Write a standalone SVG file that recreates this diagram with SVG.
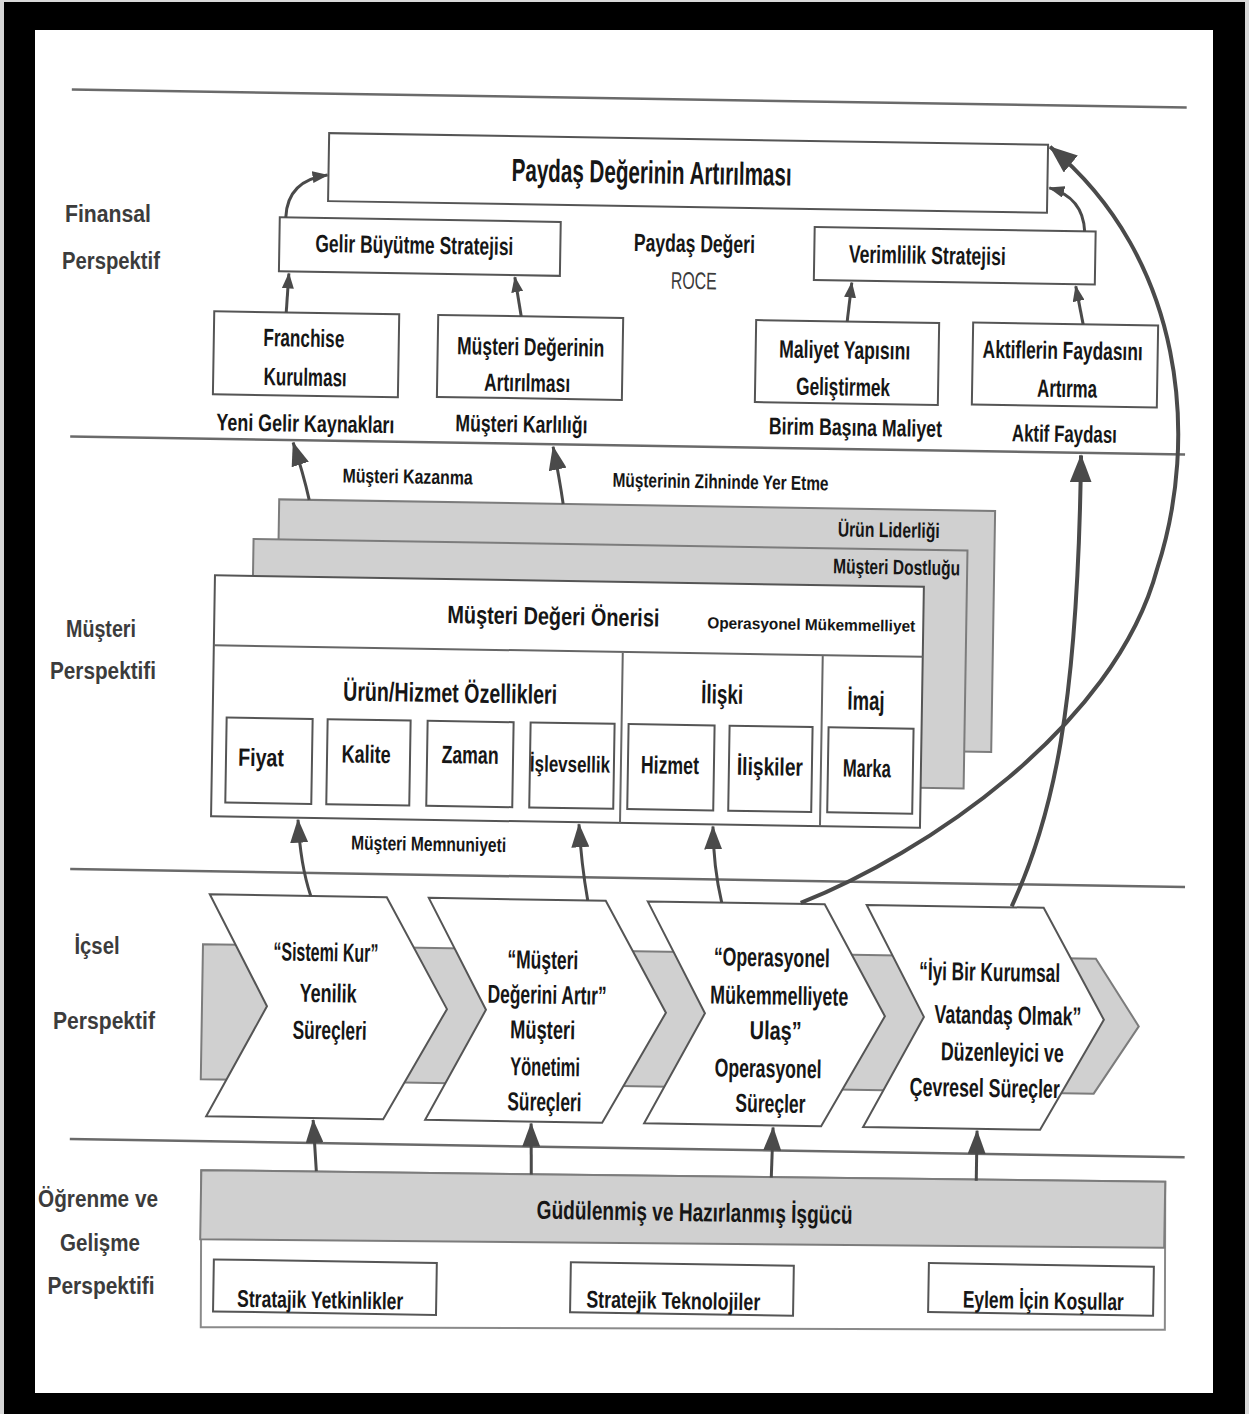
<svg xmlns="http://www.w3.org/2000/svg" width="1249" height="1414" viewBox="0 0 1249 1414">
  <style>
    .ln { stroke: #6a6a6a; stroke-width: 2.5; fill: none; }
    .bx { fill: #ffffff; stroke: #555555; stroke-width: 2; }
    .gy { fill: #d0d0d0; stroke: #7c7c7c; stroke-width: 2; }
    .dv { stroke: #666666; stroke-width: 2; fill: none; }
    .ar { stroke: #4a4a4a; stroke-width: 3; fill: none; }
    .arb { stroke: #4a4a4a; stroke-width: 4; fill: none; }
    .t { font-family: "Liberation Sans Narrow", "Liberation Sans", Arial, sans-serif; font-weight: bold; fill: #161616; text-anchor: middle; }
    .tr { font-family: "Liberation Sans Narrow", "Liberation Sans", Arial, sans-serif; font-weight: normal; fill: #3a3a3a; text-anchor: middle; }
    .te { font-family: "Liberation Sans Narrow", "Liberation Sans", Arial, sans-serif; font-weight: bold; fill: #161616; text-anchor: end; }
    .lbl { font-family: "Liberation Sans", Arial, sans-serif; font-weight: bold; fill: #3c3c3c; text-anchor: middle; font-size: 23px; }
  </style>
  <defs>
    <marker id="ah-s" viewBox="0 0 16 12" refX="15" refY="6" markerWidth="16" markerHeight="12" orient="auto" markerUnits="userSpaceOnUse">
      <path d="M0,0 L16,6 L0,12 Z" fill="#4a4a4a"/>
    </marker>
    <marker id="ah-m" viewBox="0 0 24 18" refX="23" refY="9" markerWidth="24" markerHeight="18" orient="auto" markerUnits="userSpaceOnUse">
      <path d="M0,0 L24,9 L0,18 Z" fill="#4a4a4a"/>
    </marker>
    <marker id="ah-l" viewBox="0 0 28 22" refX="27" refY="11" markerWidth="28" markerHeight="22" orient="auto" markerUnits="userSpaceOnUse">
      <path d="M0,0 L28,11 L0,22 Z" fill="#4a4a4a"/>
    </marker>
  </defs>

  <!-- frame -->
  <rect x="0" y="0" width="1249" height="1414" fill="#d8d8d8"/>
  <rect x="4" y="2" width="1241" height="1412" fill="#000000"/>
  <rect x="35" y="30" width="1178" height="1363" fill="#ffffff"/>

  <!-- perspective labels -->
  <g id="labels">
    <text class="lbl" x="108" y="222" textLength="86" lengthAdjust="spacingAndGlyphs">Finansal</text>
    <text class="lbl" x="111" y="269" textLength="98" lengthAdjust="spacingAndGlyphs">Perspektif</text>
    <text class="lbl" x="101" y="637" textLength="70" lengthAdjust="spacingAndGlyphs">Müşteri</text>
    <text class="lbl" x="103" y="679" textLength="106" lengthAdjust="spacingAndGlyphs">Perspektifi</text>
    <text class="lbl" x="97" y="954" textLength="45" lengthAdjust="spacingAndGlyphs">İçsel</text>
    <text class="lbl" x="104" y="1029" textLength="102" lengthAdjust="spacingAndGlyphs">Perspektif</text>
    <text class="lbl" x="98" y="1207" textLength="120" lengthAdjust="spacingAndGlyphs">Öğrenme ve</text>
    <text class="lbl" x="100" y="1251" textLength="80" lengthAdjust="spacingAndGlyphs">Gelişme</text>
    <text class="lbl" x="101" y="1294" textLength="107" lengthAdjust="spacingAndGlyphs">Perspektifi</text>
  </g>

  <g transform="rotate(0.93 625 700)">
    <!-- horizontal separators between perspectives -->
    <g id="separators">
      <path class="ln" d="M62,98.5 H1177"/>
      <path class="ln" d="M66,445.5 H1181"/>
      <path class="ln" d="M73,878 H1188"/>
      <path class="ln" d="M77,1148 H1192"/>
    </g>

    <!-- financial perspective -->
    <g id="paydas-degeri">
      <rect class="bx" x="320" y="138" width="719" height="68"/>
      <text class="t" x="643" y="183" font-size="32" textLength="280" lengthAdjust="spacingAndGlyphs">Paydaş Değerinin Artırılması</text>
    </g>
    <g id="gelir-buyutme">
      <rect class="bx" x="272" y="223" width="281" height="54"/>
      <text class="t" x="407" y="257" font-size="25" textLength="198" lengthAdjust="spacingAndGlyphs">Gelir Büyütme Stratejisi</text>
    </g>
    <g id="roce">
      <text class="t" x="687" y="251" font-size="25" textLength="121" lengthAdjust="spacingAndGlyphs">Paydaş Değeri</text>
      <text class="tr" x="687" y="288" font-size="24" textLength="46" lengthAdjust="spacingAndGlyphs">ROCE</text>
    </g>
    <g id="verimlilik">
      <rect class="bx" x="807" y="224" width="281" height="53"/>
      <text class="t" x="920" y="259" font-size="25" textLength="157" lengthAdjust="spacingAndGlyphs">Verimlilik Stratejisi</text>
    </g>
    <g id="franchise">
      <rect class="bx" x="208" y="318" width="185" height="83"/>
      <text class="t" x="298" y="352" font-size="25" textLength="81" lengthAdjust="spacingAndGlyphs">Franchise</text>
      <text class="t" x="300" y="391" font-size="25" textLength="83" lengthAdjust="spacingAndGlyphs">Kurulması</text>
      <text class="t" x="301" y="437" font-size="24" textLength="178" lengthAdjust="spacingAndGlyphs">Yeni Gelir Kaynakları</text>
    </g>
    <g id="musteri-degerinin-artirilmasi">
      <rect class="bx" x="432" y="318" width="185" height="82"/>
      <text class="t" x="525" y="357" font-size="25" textLength="147" lengthAdjust="spacingAndGlyphs">Müşteri Değerinin</text>
      <text class="t" x="522" y="393" font-size="25" textLength="86" lengthAdjust="spacingAndGlyphs">Artırılması</text>
      <text class="t" x="517" y="434" font-size="24" textLength="132" lengthAdjust="spacingAndGlyphs">Müşteri Karlılığı</text>
    </g>
    <g id="maliyet-yapisi">
      <rect class="bx" x="750" y="318" width="183" height="82"/>
      <text class="t" x="839" y="355" font-size="25" textLength="131" lengthAdjust="spacingAndGlyphs">Maliyet Yapısını</text>
      <text class="t" x="838" y="392" font-size="25" textLength="94" lengthAdjust="spacingAndGlyphs">Geliştirmek</text>
      <text class="t" x="851" y="432" font-size="24" textLength="173" lengthAdjust="spacingAndGlyphs">Birim Başına Maliyet</text>
    </g>
    <g id="aktiflerin-faydasi">
      <rect class="bx" x="967" y="317" width="185" height="82"/>
      <text class="t" x="1057" y="352" font-size="25" textLength="160" lengthAdjust="spacingAndGlyphs">Aktiflerin Faydasını</text>
      <text class="t" x="1062" y="390" font-size="25" textLength="60" lengthAdjust="spacingAndGlyphs">Artırma</text>
      <text class="t" x="1060" y="435" font-size="24" textLength="105" lengthAdjust="spacingAndGlyphs">Aktif Faydası</text>
    </g>

    <!-- customer perspective -->
    <g id="urun-liderligi">
      <rect class="gy" x="276" y="505" width="716" height="241"/>
      <text class="te" x="937" y="533" font-size="21" textLength="102" lengthAdjust="spacingAndGlyphs">Ürün Liderliği</text>
    </g>
    <g id="musteri-dostlugu">
      <rect class="gy" x="251" y="545" width="714" height="238"/>
      <text class="te" x="958" y="570" font-size="21" textLength="127" lengthAdjust="spacingAndGlyphs">Müşteri Dostluğu</text>
    </g>
    <g id="musteri-degeri-onerisi">
      <rect class="bx" x="213" y="582" width="709" height="241"/>
      <path class="dv" d="M213,652 H922 M622,652 V823 M822,652 V823"/>
      <text class="t" x="552" y="626" font-size="25" textLength="212" lengthAdjust="spacingAndGlyphs">Müşteri Değeri Önerisi</text>
      <text class="t" x="810" y="627" font-size="16" textLength="208" lengthAdjust="spacingAndGlyphs">Operasyonel Mükemmelliyet</text>
      <text class="t" x="450" y="705" font-size="27" textLength="214" lengthAdjust="spacingAndGlyphs">Ürün/Hizmet Özellikleri</text>
      <text class="t" x="722" y="702" font-size="27" textLength="42" lengthAdjust="spacingAndGlyphs">İlişki</text>
      <text class="t" x="866" y="706" font-size="27" textLength="37" lengthAdjust="spacingAndGlyphs">İmaj</text>
    </g>
    <g id="fiyat">
      <rect class="bx" x="227" y="724" width="86" height="85"/>
      <text class="t" x="262" y="772" font-size="25" textLength="46" lengthAdjust="spacingAndGlyphs">Fiyat</text>
    </g>
    <g id="kalite">
      <rect class="bx" x="328" y="724" width="83" height="85"/>
      <text class="t" x="367" y="767" font-size="25" textLength="49" lengthAdjust="spacingAndGlyphs">Kalite</text>
    </g>
    <g id="zaman">
      <rect class="bx" x="428" y="724" width="86" height="85"/>
      <text class="t" x="471" y="766" font-size="25" textLength="57" lengthAdjust="spacingAndGlyphs">Zaman</text>
    </g>
    <g id="islevsellik">
      <rect class="bx" x="531" y="724" width="84" height="85"/>
      <text class="t" x="571" y="773" font-size="23" textLength="80" lengthAdjust="spacingAndGlyphs">İşlevsellik</text>
    </g>
    <g id="hizmet">
      <rect class="bx" x="629" y="724" width="86" height="85"/>
      <text class="t" x="671" y="773" font-size="25" textLength="58" lengthAdjust="spacingAndGlyphs">Hizmet</text>
    </g>
    <g id="iliskiler">
      <rect class="bx" x="730" y="724" width="83" height="85"/>
      <text class="t" x="771" y="773" font-size="25" textLength="66" lengthAdjust="spacingAndGlyphs">İlişkiler</text>
    </g>
    <g id="marka">
      <rect class="bx" x="829" y="724" width="85" height="85"/>
      <text class="t" x="868" y="773" font-size="25" textLength="48" lengthAdjust="spacingAndGlyphs">Marka</text>
    </g>
    <g id="connector-labels">
      <text class="t" x="404" y="487" font-size="20" textLength="130" lengthAdjust="spacingAndGlyphs">Müşteri Kazanma</text>
      <text class="t" x="717" y="487" font-size="20" textLength="216" lengthAdjust="spacingAndGlyphs">Müşterinin Zihninde Yer Etme</text>
      <text class="t" x="431" y="854" font-size="20" textLength="155" lengthAdjust="spacingAndGlyphs">Müşteri Memnuniyeti</text>
    </g>

    <!-- internal perspective: process chain -->
    <g id="surec-bandi">
      <polygon class="gy" points="207,951 1100,951 1144,1018 1100,1086 207,1086"/>
    </g>
    <g id="yenilik-surecleri">
      <polygon class="bx" points="213,901 390,901 452,1012 390,1123 213,1123 272,1012"/>
      <text class="t" x="330" y="966" font-size="26" textLength="105" lengthAdjust="spacingAndGlyphs">“Sistemi Kur”</text>
      <text class="t" x="333" y="1007" font-size="26" textLength="57" lengthAdjust="spacingAndGlyphs">Yenilik</text>
      <text class="t" x="335" y="1044" font-size="26" textLength="74" lengthAdjust="spacingAndGlyphs">Süreçleri</text>
    </g>
    <g id="musteri-yonetimi-surecleri">
      <polygon class="bx" points="432,901 609,901 671,1012 609,1123 432,1123 491,1012"/>
      <text class="t" x="547" y="970" font-size="26" textLength="71" lengthAdjust="spacingAndGlyphs">“Müşteri</text>
      <text class="t" x="552" y="1005" font-size="26" textLength="119" lengthAdjust="spacingAndGlyphs">Değerini Artır”</text>
      <text class="t" x="548" y="1040" font-size="26" textLength="65" lengthAdjust="spacingAndGlyphs">Müşteri</text>
      <text class="t" x="551" y="1077" font-size="26" textLength="70" lengthAdjust="spacingAndGlyphs">Yönetimi</text>
      <text class="t" x="551" y="1112" font-size="26" textLength="74" lengthAdjust="spacingAndGlyphs">Süreçleri</text>
    </g>
    <g id="operasyonel-surecler">
      <polygon class="bx" points="651,901 828,901 890,1012 828,1123 651,1123 710,1012"/>
      <text class="t" x="776" y="964" font-size="26" textLength="116" lengthAdjust="spacingAndGlyphs">“Operasyonel</text>
      <text class="t" x="784" y="1002" font-size="26" textLength="138" lengthAdjust="spacingAndGlyphs">Mükemmelliyete</text>
      <text class="t" x="781" y="1037" font-size="26" textLength="52" lengthAdjust="spacingAndGlyphs">Ulaş”</text>
      <text class="t" x="774" y="1075" font-size="26" textLength="107" lengthAdjust="spacingAndGlyphs">Operasyonel</text>
      <text class="t" x="777" y="1110" font-size="26" textLength="70" lengthAdjust="spacingAndGlyphs">Süreçler</text>
    </g>
    <g id="cevresel-surecler">
      <polygon class="bx" points="870,901 1047,901 1109,1012 1047,1123 870,1123 929,1012"/>
      <text class="t" x="994" y="975" font-size="26" textLength="141" lengthAdjust="spacingAndGlyphs">“İyi Bir Kurumsal</text>
      <text class="t" x="1013" y="1018" font-size="26" textLength="147" lengthAdjust="spacingAndGlyphs">Vatandaş Olmak”</text>
      <text class="t" x="1008" y="1055" font-size="26" textLength="123" lengthAdjust="spacingAndGlyphs">Düzenleyici ve</text>
      <text class="t" x="991" y="1091" font-size="26" textLength="150" lengthAdjust="spacingAndGlyphs">Çevresel Süreçler</text>
    </g>

    <!-- learning and growth perspective -->
    <g id="ogrenme-alani">
      <polygon fill="#ffffff" stroke="#8a8a8a" stroke-width="2" points="209,1177 1173,1173 1175,1321 211,1334"/>
    </g>
    <g id="isgucu">
      <polygon class="gy" points="209,1177 1173,1173 1173,1239 209,1246"/>
      <text class="t" x="703" y="1220" font-size="26" textLength="316" lengthAdjust="spacingAndGlyphs">Güdülenmiş ve Hazırlanmış İşgücü</text>
    </g>
    <g id="yetkinlikler">
      <rect class="bx" x="223" y="1266" width="223" height="52"/>
      <text class="t" x="330" y="1313" font-size="24" textLength="166" lengthAdjust="spacingAndGlyphs">Stratajik Yetkinlikler</text>
    </g>
    <g id="teknolojiler">
      <rect class="bx" x="580" y="1263" width="223" height="50"/>
      <text class="t" x="683" y="1308" font-size="24" textLength="174" lengthAdjust="spacingAndGlyphs">Stratejik Teknolojiler</text>
    </g>
    <g id="kosullar">
      <rect class="bx" x="938" y="1258" width="225" height="49"/>
      <text class="t" x="1053" y="1302" font-size="24" textLength="161" lengthAdjust="spacingAndGlyphs">Eylem İçin Koşullar</text>
    </g>

    <!-- connectors -->
    <g id="connectors">
      <path class="ar" d="M278,223 Q279,186 319,180" marker-end="url(#ah-s)"/>
      <path class="ar" d="M1077,224 Q1075,190 1041,181" marker-end="url(#ah-s)"/>
      <path class="ar" d="M280,318 L282,279" marker-end="url(#ah-s)"/>
      <path class="ar" d="M515,318 L508,279" marker-end="url(#ah-s)"/>
      <path class="ar" d="M841,318 L845,279" marker-end="url(#ah-s)"/>
      <path class="ar" d="M1077,317 L1069,279" marker-end="url(#ah-s)"/>

      <path class="ar" d="M306,505 Q300,480 289,448" marker-end="url(#ah-m)"/>
      <path class="ar" d="M560,505 Q556,480 549,448" marker-end="url(#ah-m)"/>

      <path class="ar" d="M314,901 Q303,870 300,825" marker-end="url(#ah-m)"/>
      <path class="ar" d="M591,901 Q584,865 581,825" marker-end="url(#ah-m)"/>
      <path class="ar" d="M725,901 Q716,865 715,825" marker-end="url(#ah-m)"/>

      <path class="ar" d="M324,1176 L320,1125" marker-end="url(#ah-m)"/>
      <path class="ar" d="M539,1176 L538,1125" marker-end="url(#ah-m)"/>
      <path class="ar" d="M779,1175 L780,1125" marker-end="url(#ah-m)"/>
      <path class="ar" d="M984,1175 L984,1125" marker-end="url(#ah-m)"/>

      <path class="arb" d="M804,900 C925,850 1115,720 1155,560 C1195,430 1178,250 1041,140" marker-end="url(#ah-l)"/>
      <path class="arb" d="M1015,900 C1055,810 1078,700 1077,448" marker-end="url(#ah-l)"/>
    </g>
  </g>
</svg>
